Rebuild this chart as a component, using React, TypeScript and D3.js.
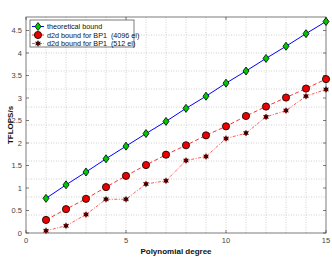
import * as d3 from "d3";

const degrees = d3.range(1, 16);
const theoretical = [0.77, 1.07, 1.355, 1.65, 1.93, 2.21, 2.48, 2.77, 3.04, 3.33, 3.6, 3.88, 4.15, 4.43, 4.7];
const bp4096 = [0.29, 0.53, 0.76, 1.02, 1.27, 1.51, 1.74, 1.95, 2.17, 2.37, 2.6, 2.81, 3.01, 3.21, 3.42];
const bp512 = [0.05, 0.16, 0.41, 0.75, 0.75, 1.09, 1.16, 1.61, 1.7, 2.1, 2.22, 2.58, 2.72, 3.04, 3.19];
const xTicks = [0, 5, 10, 15];
const yTicks = [0, 0.5, 1, 1.5, 2, 2.5, 3, 3.5, 4, 4.5];
const yGrid = d3.range(0.4, 4.8, 0.4);
const legendLabels = ["theoretical bound", "d2d bound for BP1  (4096 el)", "d2d bound for BP1  (512 el)"];

const W = 332;
const H = 257;
const ML = 26;
const MR = 6;
const MT = 17;
const MB = 24;
const FONT = "Liberation Sans, Arial, sans-serif";

function Diamond({ cx, cy }: { cx: number; cy: number }) {
  return (
    <path
      d={`M${cx},${cy - 4}L${cx + 3},${cy}L${cx},${cy + 4}L${cx - 3},${cy}Z`}
      fill="#00c800"
      stroke="#000"
      strokeWidth={0.8}
    />
  );
}

function Circle({ cx, cy }: { cx: number; cy: number }) {
  return <circle cx={cx} cy={cy} r={3.6} fill="#ee0000" stroke="#000" strokeWidth={0.8} />;
}

function Star({ cx, cy }: { cx: number; cy: number }) {
  const r = 3;
  return (
    <g>
      <circle cx={cx} cy={cy} r={2.3} fill="#cc0000" />
      <g stroke="#000" strokeWidth={0.85}>
        <line x1={cx} x2={cx} y1={cy - r} y2={cy + r} />
        <line x1={cx - r * 0.87} x2={cx + r * 0.87} y1={cy - r / 2} y2={cy + r / 2} />
        <line x1={cx - r * 0.87} x2={cx + r * 0.87} y1={cy + r / 2} y2={cy - r / 2} />
      </g>
    </g>
  );
}

export default function App() {
  const x = d3.scaleLinear().domain([0, 15]).range([ML, W - MR]);
  const y = d3.scaleLinear().domain([0, 4.8]).range([H - MB, MT]);
  const line = (vals: number[]) =>
    d3
      .line<number>()
      .x((_, i) => x(degrees[i]))
      .y((v) => y(v))(vals) ?? "";

  const legendX = 30;
  const legendY = 20;
  const rows = [26.5, 35, 43.5];

  return (
    <svg
      width={W}
      height={H}
      style={{ position: "absolute", left: 0, top: 0, background: "#fff", fontFamily: FONT }}
    >
      <rect x={0} y={0} width={W} height={H} fill="#fff" />
      <g stroke="#bdbdbd" strokeWidth={0.7} strokeDasharray="1,1.5">
        {d3.range(1, 15).map((t) => (
          <line key={`v${t}`} x1={x(t)} x2={x(t)} y1={MT} y2={H - MB} />
        ))}
        {yGrid.map((t) => (
          <line key={`h${t}`} x1={ML} x2={W - MR} y1={y(t)} y2={y(t)} />
        ))}
      </g>

      <rect x={ML} y={MT} width={W - MR - ML} height={H - MB - MT} fill="none" stroke="#444" strokeWidth={0.7} />
      <g stroke="#444" strokeWidth={0.7}>
        {yTicks.map((t) => (
          <g key={`yt${t}`}>
            <line x1={ML} x2={ML + 3} y1={y(t)} y2={y(t)} />
            <line x1={W - MR} x2={W - MR - 3} y1={y(t)} y2={y(t)} />
          </g>
        ))}
        {xTicks.map((t) => (
          <g key={`xt${t}`}>
            <line x1={x(t)} x2={x(t)} y1={H - MB} y2={H - MB - 3} />
            <line x1={x(t)} x2={x(t)} y1={MT} y2={MT + 3} />
          </g>
        ))}
      </g>
      <g fontSize={7.5} fill="#444">
        {yTicks.map((t) => (
          <text key={`yl${t}`} x={ML - 4} y={y(t)} dy="0.35em" textAnchor="end">
            {t}
          </text>
        ))}
        {xTicks.map((t) => (
          <text key={`xl${t}`} x={x(t)} y={H - MB + 10} textAnchor="middle">
            {t}
          </text>
        ))}
      </g>
      <text x={(ML + W - MR) / 2} y={H - 3} textAnchor="middle" fontSize={8} fontWeight="bold" fill="#111">
        Polynomial degree
      </text>
      <text
        transform={`translate(13,${(MT + H - MB) / 2}) rotate(-90)`}
        textAnchor="middle"
        fontSize={8}
        fontWeight="bold"
        fill="#111"
      >
        TFLOPS/s
      </text>

      <path d={line(theoretical)} fill="none" stroke="#0000ff" strokeWidth={1} />
      <path d={line(bp4096)} fill="none" stroke="#ff3030" strokeWidth={1} strokeDasharray="4,2.5" />
      <path d={line(bp512)} fill="none" stroke="#ff3030" strokeWidth={0.8} strokeDasharray="3,1.5,1,1.5" />

      {theoretical.map((v, i) => (
        <Diamond key={`d${i}`} cx={x(degrees[i])} cy={y(v)} />
      ))}
      {bp4096.map((v, i) => (
        <Circle key={`c${i}`} cx={x(degrees[i])} cy={y(v)} />
      ))}
      {bp512.map((v, i) => (
        <Star key={`s${i}`} cx={x(degrees[i])} cy={y(v)} />
      ))}

      <rect x={legendX} y={legendY} width={104} height={27} fill="#fff" stroke="#444" strokeWidth={0.7} />
      <line x1={32} x2={44} y1={rows[0]} y2={rows[0]} stroke="#0000ff" strokeWidth={1} />
      <Diamond cx={38} cy={rows[0]} />
      <line x1={32} x2={44} y1={rows[1]} y2={rows[1]} stroke="#ff3030" strokeWidth={1} strokeDasharray="3,1.5" />
      <Circle cx={38} cy={rows[1]} />
      <line x1={32} x2={44} y1={rows[2]} y2={rows[2]} stroke="#ff3030" strokeWidth={0.8} strokeDasharray="3,1.5,1,1.5" />
      <Star cx={38} cy={rows[2]} />
      <g fontSize={7.2} fill="#111">
        {legendLabels.map((l, i) => (
          <text key={l} x={47} y={rows[i]} dy="0.35em" style={{ whiteSpace: "pre" }}>
            {l}
          </text>
        ))}
      </g>
    </svg>
  );
}
